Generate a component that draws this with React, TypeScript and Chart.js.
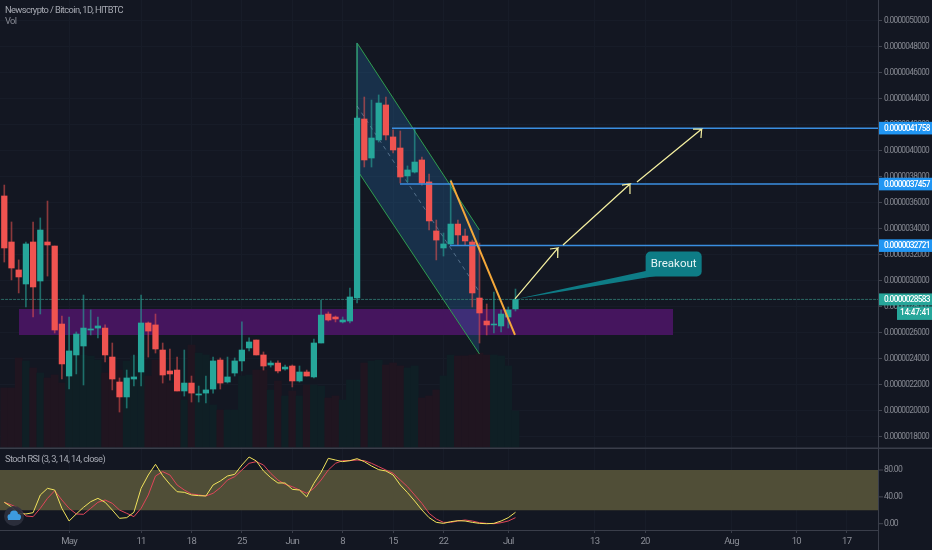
import React, { useEffect, useRef } from "react";
import { Chart, registerables } from "chart.js";

Chart.register(...registerables);

// All prices are in units of 0.0000001 BTC.
const PRICE_UNIT = 1e-7;
const highs = [37.38,34.54,31.62,33.0,34.54,34.85,36.15,32.69,27.31,27.23,26.08,28.92,27.77,27.23,26.62,25.23,22.54,23.15,24.31,28.92,26.85,27.46,25.23,24.77,24.15,24.69,22.69,21.92,22.69,24.15,24.08,24.15,24.08,26.85,25.62,25.46,24.54,23.85,23.85,23.54,23.54,23.46,23.15,25.54,28.54,27.62,27.31,27.23,29.46,42.69,44.15,43.92,44.31,44.15,41.62,41.54,38.85,41.77,39.54,38.23,34.69,33.69,37.77,34.69,34.0,33.15,32.92,28.23,29.15,27.77,28.0,29.38];
const lows = [31.46,30.08,29.08,28.0,27.23,27.46,30.38,26.0,22.46,21.69,22.85,22.0,25.85,25.62,23.77,21.62,19.92,20.23,21.92,21.92,24.15,24.46,22.15,22.38,21.54,21.15,20.69,20.69,20.62,21.38,21.69,22.15,22.69,23.08,24.62,24.31,23.15,23.38,22.92,23.15,21.85,22.23,22.69,22.54,25.23,26.92,26.85,26.77,26.77,28.31,38.77,38.77,40.69,40.85,39.85,37.54,37.62,38.31,37.38,33.92,31.62,31.92,32.69,32.77,32.77,28.0,25.23,25.85,26.0,26.08,26.38,27.69];
const opens = [36.54,33.0,30.85,29.77,33.0,30.0,33.0,32.69,26.69,22.69,24.31,25.0,26.23,26.38,26.38,24.15,22.23,21.08,22.46,23.0,26.77,26.62,24.69,23.08,23.15,21.54,22.15,21.23,21.38,21.69,23.92,22.23,22.92,23.85,24.85,25.46,24.31,23.54,23.69,23.23,23.46,22.31,23.0,22.62,25.23,27.46,27.23,26.85,26.92,28.69,42.46,39.46,40.85,43.54,41.08,40.23,38.08,38.38,39.31,37.62,33.85,32.54,32.85,34.38,33.46,33.0,28.69,26.92,26.62,26.54,27.23,27.85];
const closes = [32.54,31.0,30.31,32.85,29.54,33.92,32.77,26.23,23.62,24.62,25.92,26.38,26.31,26.54,24.31,22.46,21.08,22.54,22.62,26.77,26.15,24.77,22.77,22.85,21.54,22.15,21.38,21.31,21.62,23.85,22.15,22.62,23.85,24.69,25.31,24.31,23.46,23.69,23.08,23.38,22.31,23.0,22.69,25.23,27.38,27.0,27.08,27.0,28.77,42.54,39.31,41.0,43.69,41.23,40.08,38.0,38.54,39.15,37.54,34.62,33.15,32.85,34.38,33.54,33.08,29.08,27.54,26.62,26.69,27.46,27.77,28.58];
const volumes = [59,59,89,86,79,74,69,72,64,92,92,92,91,87,74,67,77,86,91,87,71,87,72,64,64,47,102,94,92,42,37,37,37,71,72,77,77,57,66,51,56,51,62,62,61,49,51,47,67,67,84,86,87,82,84,81,79,81,49,51,57,71,92,91,91,92,94,92,92,91,81,36];
const stochK = [31.9,24.9,15.5,14.5,16.4,42.8,52.7,50.2,22.9,4.0,14.5,24.4,32.8,37.8,31.9,20.4,8.0,9.0,17.0,52.7,72.6,88.5,71.6,58.7,47.7,46.8,42.8,41.8,41.3,57.7,63.6,71.1,73.6,87.5,99.4,93.5,78.6,68.6,60.7,60.7,51.2,50.2,39.8,60.2,76.6,97.4,94.9,92.5,94.0,96.9,92.5,86.0,80.5,78.6,72.6,57.7,46.3,33.8,20.4,9.0,2.0,0.5,3.0,4.5,4.0,2.0,0.5,0,0.5,4.0,9.0,17.0];
const stochD = [31.9,27.9,22.9,11.5,10.5,22.9,37.8,49.2,35.3,22.9,14.5,14.0,22.9,31.9,35.3,30.4,20.4,15.5,10.5,22.9,42.8,71.1,77.6,72.6,57.7,50.2,44.3,42.8,41.3,45.3,53.7,65.1,70.1,80.0,90.0,92.5,87.5,75.1,65.1,58.7,55.2,50.2,45.3,52.7,65.1,80.0,90.0,94.0,94.0,94.9,94.0,90.0,85.0,80.0,75.1,65.1,55.2,42.8,30.4,15.5,7.0,2.0,2.0,4.0,5.5,4.0,1.5,0.5,0,1.5,4.0,9.0];

const xTickIndex = [9,19,26,33,40,47,54,61,70,82,89,101,110,117];
const xTickLabels = ["May","11","18","25","Jun","8","15","22","Jul","13","20","Aug","10","17"];
const priceTicks = [18,20,22,24,26,28,30,32,34,36,38,40,42,44,46,48,50];
const rsiTicks = [0,40,80];

// Drawings, in [bar index, price] coordinates.
const zone = { from: 2.04, to: 92.9, top: 27.85, bottom: 25.85 };
const channelUpper = [[49,48.31],[66,33.92]];
const channelLower = [[49,38.54],[66,24.38]];
const channelMid = [[49,43.46],[66,29.15]];
const channelLeft = [[49,48.31],[49,38.54]];
const targetLevels = [41.758,37.457,32.721];
const targetStarts = [53.85,54.96,61.9];
const lastPrice = 28.583;
const countdown = "14:47:41";
const orangeLine = [[62,37.72],[70.93,25.85]];
const arrow1 = [[70.93,28.62],[76.9,32.54],[75.79,32.46],[76.9,32.54],[76.86,31.77]];
const arrow2 = [[77.6,32.77],[86.9,37.46],[85.79,37.38],[86.9,37.46],[86.9,36.69]];
const arrow3 = [[87.87,37.62],[96.86,41.69],[95.65,41.69],[96.86,41.69],[96.76,41.0]];
const callout = { text: "Breakout", i: 92.97, price: 31.31, tipI: 71, tipPrice: 28.6 };

const titleText = "Newscrypto / Bitcoin, 1D, HITBTC";
const volText = "Vol";
const stochText = "Stoch RSI (3, 3, 14, 14, close)";

const BG = "#131722";
const GREEN = "#26a69a";
const RED = "#ef5350";
const FONT = "Roboto, sans-serif";
const AXIS_SPACING = "-0.7px";

const pts = (a: number[][]) => a.map(([x, y]) => ({ x, y }));
const up = (i: number) => closes[i] >= opens[i];
const line = (data: any[], color: string, width: number, order: number, extra: any = {}) => ({
  type: "line", data, borderColor: color, borderWidth: width, pointRadius: 0, order,
  tension: 0, fill: false, yAxisID: "y", ...extra,
});
const noPadding = (s: any) => { s.paddingTop = 0; s.paddingBottom = 0; s.paddingLeft = 0; s.paddingRight = 0; };

const overlay = {
  id: "overlay",
  beforeDraw(chart: any) {
    chart.ctx.letterSpacing = AXIS_SPACING;
  },
  afterDraw(chart: any) {
    const { ctx, scales } = chart;
    const x = scales.x, y = scales.y, rsi = scales.rsi;
    ctx.save();
    // pane separators
    ctx.fillStyle = "#3a3e4a";
    ctx.fillRect(0, 447.5, 932, 1.5);
    ctx.fillRect(0, 530, 878, 1);
    ctx.fillRect(878, 0, 1, 550);

    // stochastic axis
    ctx.font = `8.6px ${FONT}`;
    ctx.textAlign = "left";
    ctx.textBaseline = "middle";
    rsiTicks.forEach((t) => {
      const py = rsi.getPixelForValue(t);
      ctx.fillStyle = "#434651";
      ctx.fillRect(879, py - 0.5, 4, 1);
      ctx.fillStyle = "#878a93";
      ctx.fillText(t.toFixed(2), 884, py);
    });

    // callout
    ctx.letterSpacing = "0px";
    const cx = x.getPixelForValue(callout.i), cy = y.getPixelForValue(callout.price);
    const tx = x.getPixelForValue(callout.tipI), ty = y.getPixelForValue(callout.tipPrice);
    ctx.fillStyle = "#0e7c86";
    ctx.beginPath();
    ctx.moveTo(tx, ty);
    ctx.lineTo(cx - 28, cy + 7);
    ctx.lineTo(cx - 18, cy + 12);
    ctx.closePath();
    ctx.fill();
    ctx.beginPath();
    ctx.roundRect(cx - 28, cy - 12.5, 56, 25, 5);
    ctx.fill();
    ctx.fillStyle = "#e6f4f5";
    ctx.font = `11.5px ${FONT}`;
    ctx.textAlign = "center";
    ctx.fillText(callout.text, cx, cy);

    // price labels on the axis
    ctx.letterSpacing = AXIS_SPACING;
    ctx.font = `500 8.3px ${FONT}`;
    ctx.textAlign = "left";
    const fmt = (v: number) => (v * PRICE_UNIT).toFixed(10);
    targetLevels.forEach((lv) => {
      const py = y.getPixelForValue(lv);
      ctx.fillStyle = "#2196f3";
      ctx.fillRect(879, py - 6.3, 53, 12.6);
      ctx.fillStyle = "#ffffff";
      ctx.fillText(fmt(lv), 884, py + 0.5);
    });
    const ly = y.getPixelForValue(lastPrice);
    ctx.fillStyle = GREEN;
    ctx.fillRect(879, ly - 6, 53, 12);
    ctx.fillRect(897, ly + 7, 35, 13.5);
    ctx.fillStyle = "#ffffff";
    ctx.fillText(fmt(lastPrice), 884, ly + 0.5);
    ctx.letterSpacing = "-0.3px";
    ctx.fillText(countdown, 900, ly + 14);

    // legend texts
    ctx.letterSpacing = "-0.6px";
    ctx.fillStyle = "#a6a9b2";
    ctx.font = `9.3px ${FONT}`;
    ctx.fillText(titleText, 5, 10.5);
    ctx.fillStyle = "#868993";
    ctx.fillText(volText, 5, 22);
    ctx.fillStyle = "#a6a9b2";
    ctx.fillText(stochText, 5, 459.5);

    // logo
    ctx.fillStyle = "rgba(45,49,62,0.9)";
    ctx.beginPath();
    ctx.arc(14, 516, 10, 0, Math.PI * 2);
    ctx.fill();
    ctx.fillStyle = "#3d9be0";
    ctx.beginPath();
    ctx.arc(10.5, 517, 3, 0, Math.PI * 2);
    ctx.arc(14, 514.5, 4, 0, Math.PI * 2);
    ctx.arc(18, 517, 3, 0, Math.PI * 2);
    ctx.fill();
    ctx.fillRect(8, 517, 12, 3);
    ctx.restore();
  },
};

export default function App() {
  const ref = useRef<HTMLCanvasElement>(null);
  useEffect(() => {
    document.body.style.margin = "0";
    document.body.style.background = BG;
    const idx = opens.map((_, i) => i);
    const chart = new Chart(ref.current as HTMLCanvasElement, {
      type: "bar",
      data: {
        datasets: [
          { type: "bar", data: idx.map((i) => ({ x: i, y: volumes[i] })), yAxisID: "vol", barThickness: 7,
            backgroundColor: idx.map((i) => (up(i) ? "#0f1f25" : "#201520")), grouped: false, order: 30 },
          line([{ x: -1, y: 80 }, { x: 123, y: 80 }], "transparent", 0, 29, { yAxisID: "rsi", fill: { target: "+1" }, backgroundColor: "#504e37" }),
          line([{ x: -1, y: 20 }, { x: 123, y: 20 }], "transparent", 0, 28, { yAxisID: "rsi" }),
          line([{ x: zone.from, y: zone.top }, { x: zone.to, y: zone.top }], "transparent", 0, 27, { fill: { target: "+1" }, backgroundColor: "#45155e" }),
          line([{ x: zone.from, y: zone.bottom }, { x: zone.to, y: zone.bottom }], "transparent", 0, 26),
          line(pts(channelUpper), "#2f9e4f", 1, 25, { fill: { target: "+1" }, backgroundColor: "rgba(41,128,200,0.24)" }),
          line(pts(channelLower), "#2f9e4f", 1, 24),
          line(pts(channelLeft), "#2f8f6f", 1, 23),
          line(pts(channelMid), "rgba(130,160,190,0.55)", 1, 22, { borderDash: [4, 4] }),
          line([{ x: -1, y: lastPrice }, { x: 123, y: lastPrice }], "rgba(50,125,118,0.8)", 1, 21, { borderDash: [3, 1] }),
          { type: "bar", data: idx.map((i) => ({ x: i, y: [lows[i], highs[i]] })), yAxisID: "y", barThickness: 1,
            backgroundColor: idx.map((i) => (up(i) ? "rgba(38,166,154,0.6)" : "rgba(239,83,80,0.55)")), grouped: false, order: 20 },
          { type: "bar", data: idx.map((i) => ({ x: i, y: [opens[i], closes[i]] })), yAxisID: "y", barThickness: 5.6,
            backgroundColor: idx.map((i) => (up(i) ? GREEN : RED)), grouped: false, order: 19 },
          ...targetLevels.map((lv, k) => line([{ x: targetStarts[k], y: lv }, { x: 123, y: lv }], "#3a8ee0", 1.5, 18)),
          line(pts(orangeLine), "#f5a83a", 2, 17),
          line(pts(arrow1), "#f4efa0", 1.2, 16),
          line(pts(arrow2), "#f4efa0", 1.2, 16),
          line(pts(arrow3), "#f4efa0", 1.2, 16),
          line(stochD.map((v, i) => ({ x: i, y: v })), "#e0455a", 1, 15, { yAxisID: "rsi" }),
          line(stochK.map((v, i) => ({ x: i, y: v })), "#f2e35c", 1, 14, { yAxisID: "rsi" }),
        ] as any,
      },
      options: {
        responsive: false,
        animation: false,
        devicePixelRatio: 1,
        events: [],
        layout: { padding: 0 },
        plugins: { legend: { display: false }, tooltip: { enabled: false } },
        scales: {
          x: {
            type: "linear", min: -0.597, max: 121.35, offset: false,
            afterBuildTicks: (s: any) => { s.ticks = xTickIndex.map((value) => ({ value })); },
            afterFit: (s: any) => { s.height = 20; noPadding(s); },
            grid: { offset: false, color: "#171c28", tickColor: "#3a3e4a", tickLength: 3, drawTicks: true },
            border: { display: false },
            ticks: {
              color: "#8a8d96", maxRotation: 0, autoSkip: false, padding: 3,
              font: { family: FONT, size: 9.5 },
              callback: (v: any) => xTickLabels[xTickIndex.indexOf(v)] ?? "",
            },
          },
          y: {
            type: "linear", position: "right", min: 10.846, max: 51.615,
            afterBuildTicks: (s: any) => { s.ticks = priceTicks.map((value) => ({ value })); },
            afterFit: (s: any) => { s.width = 54; noPadding(s); },
            grid: { color: "#171c28", tickColor: "#434651", tickLength: 4 },
            border: { display: false },
            ticks: {
              color: "#878a93", padding: 2, autoSkip: false,
              font: { family: FONT, size: 8.3 },
              callback: (v: any) => (v * PRICE_UNIT).toFixed(10),
            },
          },
          rsi: { type: "linear", axis: "y", display: false, min: -9.39, max: 780.5 },
          vol: { type: "linear", axis: "y", display: false, min: -83, max: 447 },
        },
      } as any,
      plugins: [overlay],
    });
    return () => chart.destroy();
  }, []);
  return <canvas ref={ref} width={932} height={550} style={{ display: "block", background: BG }} />;
}
